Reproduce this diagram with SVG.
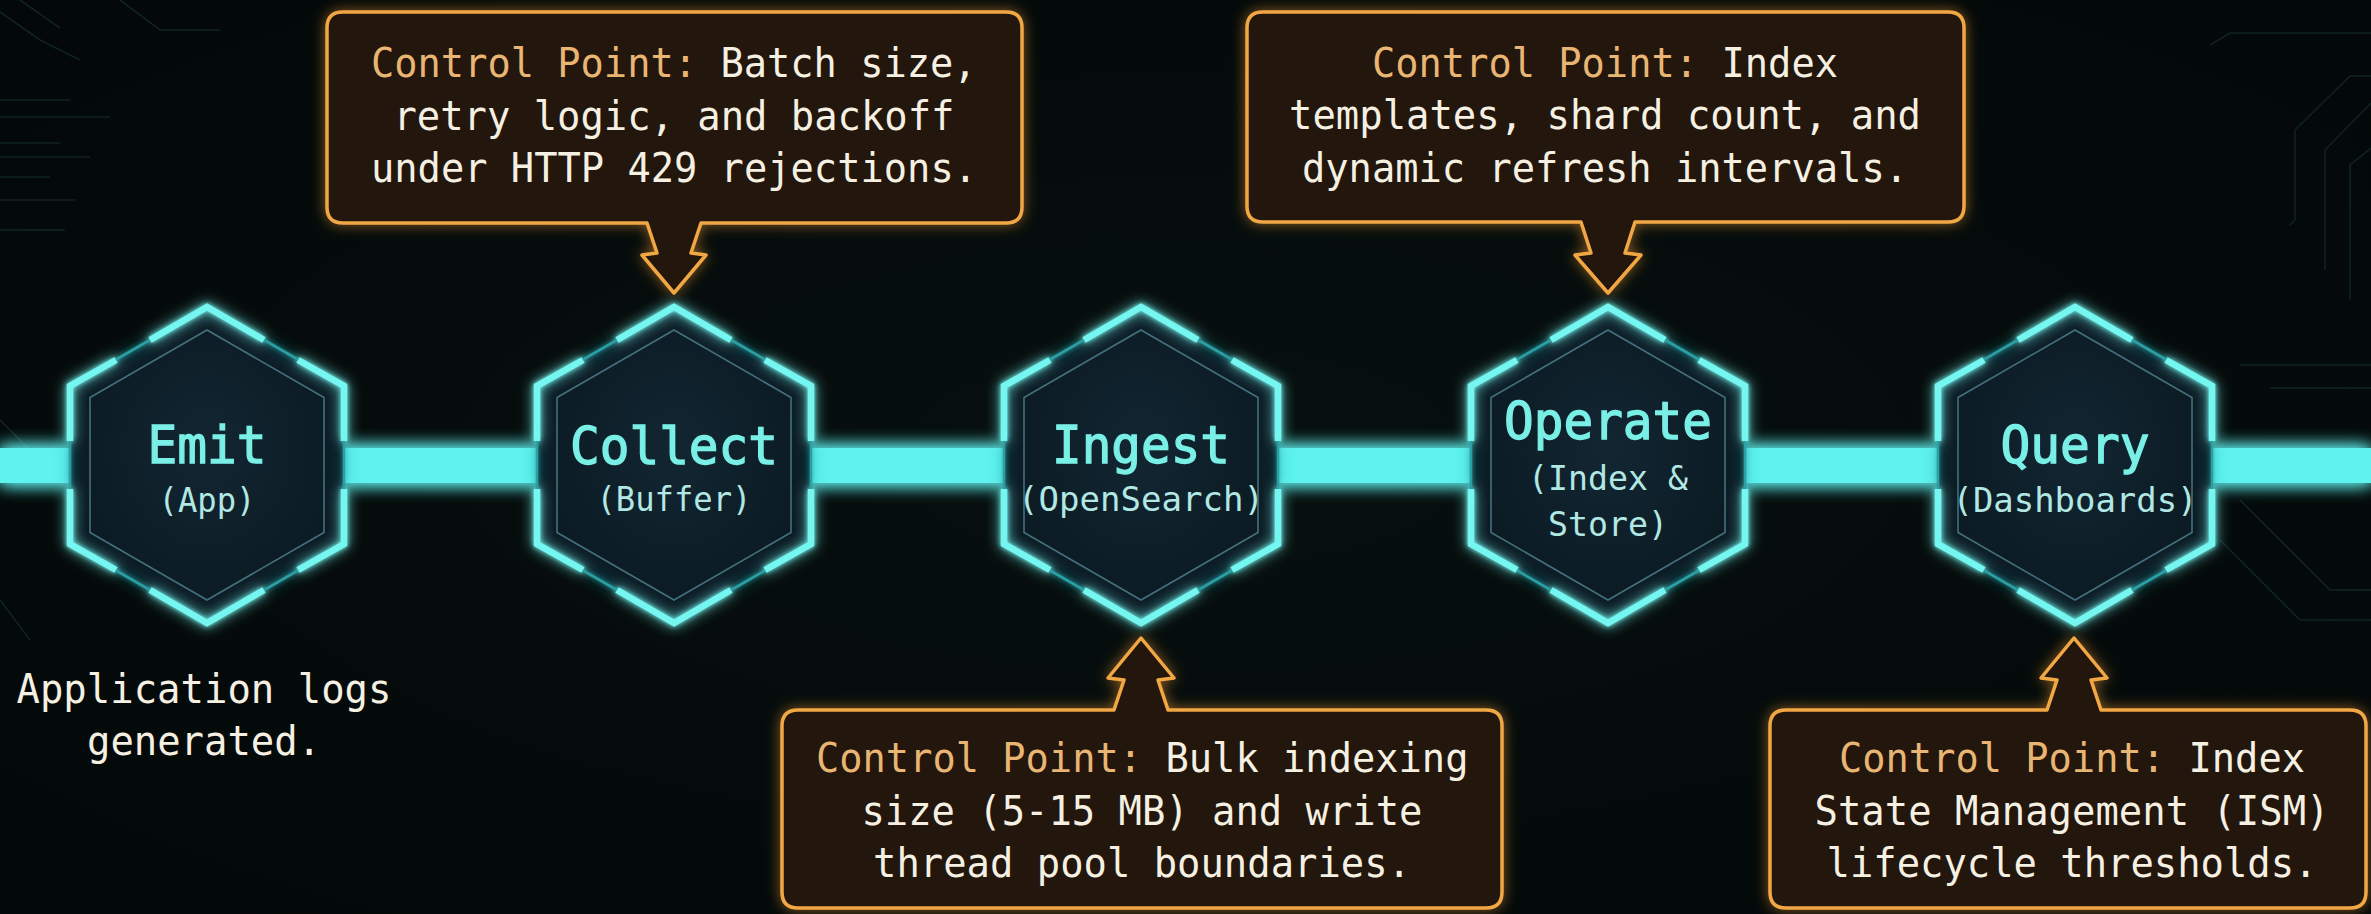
<svg xmlns="http://www.w3.org/2000/svg" width="2371" height="914" viewBox="0 0 2371 914">
  <defs>
    <style>
      .mono { font-family: "DejaVu Sans Mono", "Liberation Mono", monospace; }
      .title { font-size: 51px; fill: #79efe6; stroke: #79efe6; stroke-width: 1.3px; text-anchor: middle; }
      .sub { font-size: 34px; fill: #b2e8e4; text-anchor: middle; }
      .note { font-size: 41px; fill: #f5f0e2; text-anchor: middle; }
      .lead { font-size: 41px; text-anchor: start; }
      .cp { fill: #e9b572; }
      .body { fill: #f5f0e2; }
      .callout { fill: #24170a; stroke: #f2a745; stroke-width: 3.5; stroke-linejoin: round; }
      .hex-fill { fill: url(#hexGrad); }
      .hex-thin { fill: none; stroke: #2aa0a5; stroke-width: 2.6; }
      .hex-inner { fill: none; stroke: #4d7f8c; stroke-width: 1.6; opacity: 0.85; }
      .hex-bracket { fill: none; stroke: #74f6f0; stroke-width: 6.5; stroke-linecap: butt; stroke-linejoin: miter; }
      .circuit { fill: none; stroke: #142b2b; stroke-width: 1.6; opacity: 0.75; }
    </style>
    <radialGradient id="bgGrad" cx="50%" cy="50%" r="75%">
      <stop offset="0" stop-color="#07100f"/>
      <stop offset="1" stop-color="#030707"/>
    </radialGradient>
    <radialGradient id="hexGrad" cx="50%" cy="45%" r="60%">
      <stop offset="0" stop-color="#122632"/>
      <stop offset="1" stop-color="#0a1820"/>
    </radialGradient>
    <filter id="cyanGlow" x="-30%" y="-30%" width="160%" height="160%">
      <feGaussianBlur in="SourceGraphic" stdDeviation="7" result="b1"/>
      <feGaussianBlur in="SourceGraphic" stdDeviation="2.5" result="b2"/>
      <feMerge>
        <feMergeNode in="b1"/>
        <feMergeNode in="b2"/>
        <feMergeNode in="SourceGraphic"/>
      </feMerge>
    </filter>
    <filter id="barGlow" x="-5%" y="-200%" width="110%" height="500%">
      <feGaussianBlur in="SourceGraphic" stdDeviation="9" result="b1"/>
      <feMerge>
        <feMergeNode in="b1"/>
        <feMergeNode in="b1"/>
        <feMergeNode in="SourceGraphic"/>
      </feMerge>
    </filter>
    <filter id="orangeGlow" x="-10%" y="-20%" width="120%" height="140%">
      <feFlood flood-color="#f29a2e" flood-opacity="0.55"/>
      <feComposite operator="in" in2="SourceGraphic" result="tint"/>
      <feGaussianBlur in="tint" stdDeviation="7" result="glow"/>
      <feMerge>
        <feMergeNode in="glow"/>
        <feMergeNode in="SourceGraphic"/>
      </feMerge>
    </filter>
    <!-- hexagon pieces, centred on 0,0 (circumradius 158) -->
    <path id="hexOuter" d="M0,-158 L137,-79 L137,79 L0,158 L-137,79 L-137,-79 Z"/>
    <path id="hexInner" d="M0,-135 L117,-67.5 L117,67.5 L0,135 L-117,67.5 L-117,-67.5 Z"/>
    <path id="hexBrackets" d="M-57,-125 L0,-158 L57,-125 M-57,125 L0,158 L57,125 M91,-105 L137,-79 L137,-24 M137,24 L137,79 L91,105 M-91,-105 L-137,-79 L-137,-24 M-137,24 L-137,79 L-91,105"/>
    <g id="hexNode">
      <use href="#hexOuter" class="hex-fill"/>
      <g filter="url(#cyanGlow)">
        <use href="#hexOuter" class="hex-thin"/>
        <use href="#hexBrackets" class="hex-bracket"/>
      </g>
      <use href="#hexInner" class="hex-inner"/>
    </g>
  </defs>

  <!-- background -->
  <rect x="0" y="0" width="2371" height="914" fill="url(#bgGrad)"/>

  <!-- faint circuit traces -->
  <g id="circuitry" class="circuit">
    <path d="M0,100 H70 M0,117 H110 M0,143 H60 M0,157 H90 M0,177 H50 M0,200 H75 M0,230 H65"/>
    <path d="M0,12 L40,40 L80,60 M20,0 L60,28 M120,0 L160,30 H220"/>
    <path d="M0,420 L40,460 M0,600 L30,640"/>
    <path d="M2371,33 H2230 L2210,45"/>
    <path d="M2371,76 H2350 L2295,130 V220 L2290,225"/>
    <path d="M2371,103 L2325,150 V270"/>
    <path d="M2371,148 L2350,165 V300"/>
    <path d="M2240,365 H2371 M2270,388 H2371"/>
    <path d="M2240,500 L2330,590 H2371 M2220,540 L2300,620 H2371"/>
  </g>

  <!-- connectors: the glowing pipeline bar -->
  <g id="connectors">
    <rect x="0" y="448" width="2371" height="35" fill="#5ef2ee" filter="url(#barGlow)"/>
  </g>

  <!-- pipeline stages -->
  <g id="node-emit" class="mono">
    <use href="#hexNode" transform="translate(207,465)"/>
    <text class="title" x="207" y="463" textLength="119" lengthAdjust="spacingAndGlyphs">Emit</text>
    <text class="sub" x="207" y="512" textLength="97" lengthAdjust="spacingAndGlyphs">(App)</text>
  </g>
  <g id="node-collect" class="mono">
    <use href="#hexNode" transform="translate(674,465)"/>
    <text class="title" x="674" y="464" textLength="208" lengthAdjust="spacingAndGlyphs">Collect</text>
    <text class="sub" x="674" y="511" textLength="155" lengthAdjust="spacingAndGlyphs">(Buffer)</text>
  </g>
  <g id="node-ingest" class="mono">
    <use href="#hexNode" transform="translate(1141,465)"/>
    <text class="title" x="1141" y="463" textLength="178" lengthAdjust="spacingAndGlyphs">Ingest</text>
    <text class="sub" x="1141" y="511" textLength="246" lengthAdjust="spacingAndGlyphs">(OpenSearch)</text>
  </g>
  <g id="node-operate" class="mono">
    <use href="#hexNode" transform="translate(1608,465)"/>
    <text class="title" x="1608" y="439" textLength="208" lengthAdjust="spacingAndGlyphs">Operate</text>
    <text class="sub" x="1608" y="490" textLength="160" lengthAdjust="spacingAndGlyphs">(Index &amp;</text>
    <text class="sub" x="1608" y="536" textLength="120" lengthAdjust="spacingAndGlyphs">Store)</text>
  </g>
  <g id="node-query" class="mono">
    <use href="#hexNode" transform="translate(2075,465)"/>
    <text class="title" x="2075" y="463" textLength="149" lengthAdjust="spacingAndGlyphs">Query</text>
    <text class="sub" x="2075" y="512" textLength="245" lengthAdjust="spacingAndGlyphs">(Dashboards)</text>
  </g>

  <!-- caption under the first stage -->
  <g id="note-emit" class="mono">
    <text class="note" x="204" y="703" textLength="375" lengthAdjust="spacingAndGlyphs">Application logs</text>
    <text class="note" x="204" y="755" textLength="234" lengthAdjust="spacingAndGlyphs">generated.</text>
  </g>

  <!-- control point callouts -->
  <g id="callout-collect" class="mono">
    <path class="callout" filter="url(#orangeGlow)" d="M343,12 H1006 Q1022,12 1022,28 V207 Q1022,223 1006,223 H701 L691,253 L706,255 L674,293 L642,255 L657,253 L647,223 H343 Q327,223 327,207 V28 Q327,12 343,12 Z"/>
    <text class="lead cp" x="371" y="77" textLength="326" lengthAdjust="spacingAndGlyphs">Control Point:</text>
    <text class="lead body" x="720.5" y="77" textLength="256" lengthAdjust="spacingAndGlyphs">Batch size,</text>
    <text class="note" x="674" y="130" textLength="561" lengthAdjust="spacingAndGlyphs">retry logic, and backoff</text>
    <text class="note" x="674" y="182" textLength="606" lengthAdjust="spacingAndGlyphs">under HTTP 429 rejections.</text>
  </g>
  <g id="callout-operate" class="mono">
    <path class="callout" filter="url(#orangeGlow)" d="M1263,12 H1948 Q1964,12 1964,28 V206 Q1964,222 1948,222 H1635 L1625,253 L1641,255 L1608,293 L1575,255 L1591,253 L1581,222 H1263 Q1247,222 1247,206 V28 Q1247,12 1263,12 Z"/>
    <text class="lead cp" x="1372" y="77" textLength="326" lengthAdjust="spacingAndGlyphs">Control Point:</text>
    <text class="lead body" x="1721.5" y="77" textLength="116.5" lengthAdjust="spacingAndGlyphs">Index</text>
    <text class="note" x="1605" y="129" textLength="632" lengthAdjust="spacingAndGlyphs">templates, shard count, and</text>
    <text class="note" x="1605" y="182" textLength="606" lengthAdjust="spacingAndGlyphs">dynamic refresh intervals.</text>
  </g>
  <g id="callout-ingest" class="mono">
    <path class="callout" filter="url(#orangeGlow)" d="M798,710 H1114 L1124,680 L1108,678 L1141,638 L1174,678 L1158,680 L1168,710 H1486 Q1502,710 1502,726 V892 Q1502,908 1486,908 H798 Q782,908 782,892 V726 Q782,710 798,710 Z"/>
    <text class="lead cp" x="816" y="772" textLength="326" lengthAdjust="spacingAndGlyphs">Control Point:</text>
    <text class="lead body" x="1165.5" y="772" textLength="303" lengthAdjust="spacingAndGlyphs">Bulk indexing</text>
    <text class="note" x="1142" y="825" textLength="561" lengthAdjust="spacingAndGlyphs">size (5-15 MB) and write</text>
    <text class="note" x="1142" y="877" textLength="538" lengthAdjust="spacingAndGlyphs">thread pool boundaries.</text>
  </g>
  <g id="callout-query" class="mono">
    <path class="callout" filter="url(#orangeGlow)" d="M1786,710 H2047 L2057,680 L2041,678 L2074,638 L2107,678 L2091,680 L2101,710 H2350 Q2366,710 2366,726 V892 Q2366,908 2350,908 H1786 Q1770,908 1770,892 V726 Q1770,710 1786,710 Z"/>
    <text class="lead cp" x="1839" y="772" textLength="326" lengthAdjust="spacingAndGlyphs">Control Point:</text>
    <text class="lead body" x="2188.5" y="772" textLength="116.5" lengthAdjust="spacingAndGlyphs">Index</text>
    <text class="note" x="2072" y="825" textLength="515" lengthAdjust="spacingAndGlyphs">State Management (ISM)</text>
    <text class="note" x="2072" y="877" textLength="491" lengthAdjust="spacingAndGlyphs">lifecycle thresholds.</text>
  </g>
</svg>
